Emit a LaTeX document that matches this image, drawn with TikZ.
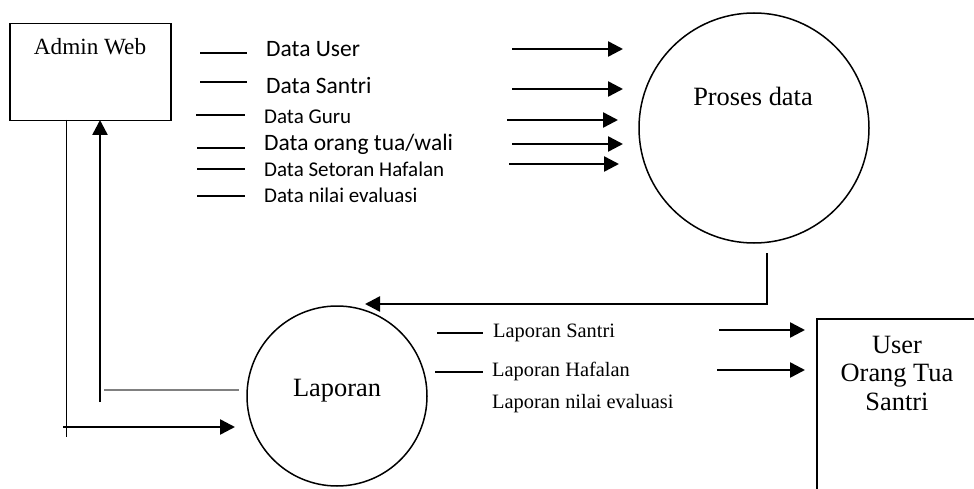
\documentclass[tikz,border=0pt]{standalone}
\usepackage{fontspec}
\setmainfont{Liberation Serif}
\newfontfamily\calfont{Carlito}
\usetikzlibrary{arrows.meta, calc}

\begin{document}
\begin{tikzpicture}[x=1pt, y=-1pt,
  box/.style={draw, line width=1.5pt, rectangle, anchor=north west, inner sep=0pt},
  proc/.style={draw, line width=1.5pt, circle, inner sep=0pt},
  flow/.style={line width=2.5pt, -{Triangle[length=15pt,width=15pt]}},
  dash line/.style={line width=1.5pt},
  datalbl/.style={anchor=base west, inner sep=0pt, font=\calfont\fontsize{23.5}{26}\selectfont},
  datasmall/.style={datalbl, font=\calfont\fontsize{21}{24}\selectfont},
  replbl/.style={anchor=base west, inner sep=0pt, font=\fontsize{20.4}{24}\selectfont},
  biglbl/.style={anchor=base, inner sep=0pt, font=\fontsize{26.4}{28.5}\selectfont}]

\useasboundingbox (0,0) rectangle (974,489);
\clip (0,0) rectangle (974,489);

% Entities and processes
\node[box, minimum width=161pt, minimum height=97pt] (admin) at (9,23) {};
\node[box, draw=none, minimum width=200pt, minimum height=200pt] (user) at (817,319) {};
\draw[line width=1.5pt] (user.south west) |- (user.north east);
\node[proc, minimum size=230pt] (proses) at (754,128) {};
\node[proc, minimum size=180pt] (laporan) at (337,396) {};

% Names
\node[biglbl, font=\fontsize{23.2}{26}\selectfont] (adminText) at (90,55) {Admin Web};
\node[biglbl] (prosesText) at (753,106) {Proses data};
\node[biglbl] (laporanText) at (337,396) {Laporan};
\node[biglbl, align=center] (userText) at (897,410) {User\\Orang Tua\\Santri};

% Points
\coordinate (A1) at (66,120);
\coordinate (A2) at (66,437);
\coordinate (A3) at (100,402);
\coordinate (A4) at (100,120);
\coordinate (A5) at (63,427);
\coordinate (A6) at (235,427);
\coordinate (G1) at (104,390);
\coordinate (G2) at (239,390);
\coordinate (P1) at (767,253);
\coordinate (P2) at (767,304);
\coordinate (P3) at (365,304);

% Data labels
\node[datalbl] (dUser) at (266,57) {Data User};
\node[datalbl] (dSantri) at (266,94) {Data Santri};
\node[datasmall] (dGuru) at (264,124) {Data Guru};
\node[datalbl] (dOrtu) at (264,151) {Data orang tua/wali};
\node[datasmall] (dSetor) at (264,177) {Data Setoran Hafalan};
\node[datasmall] (dNilai) at (264,203) {Data nilai evaluasi};

\draw[dash line] (200,53) -- (247,53);
\draw[dash line] (200,82) -- (247,82);
\draw[dash line] (196,115) -- (245,115);
\draw[dash line] (197,148) -- (245,148);
\draw[dash line] (197,169) -- (245,169);
\draw[dash line] (197,196) -- (245,196);

% Arrows into Proses data
\draw[flow] (512,49) -- (623,49);
\draw[flow] (512,89) -- (623,89);
\draw[flow] (507,120) -- (618,120);
\draw[flow] (512,144) -- (623,144);
\draw[flow] (509,164) -- (619,164);

% Proses data to Laporan
\draw[line width=1.3pt] (P1) -- (P2);
\draw[flow] ($(P2)+(0.5,0)$) -- (P3);

% Admin Web and Laporan
\draw[line width=1pt] (A1) -- (A2);
\draw[flow] (A3) -- (A4);
\draw[flow] (A5) -- (A6);
\draw[line width=1.3pt, gray] (G1) -- (G2);

% Report labels
\node[replbl] (lSantri) at (493,337) {Laporan Santri};
\node[replbl] (lHafalan) at (492,376) {Laporan Hafalan};
\node[replbl] (lNilai) at (492,408) {Laporan nilai evaluasi};

\draw[dash line] (437,333) -- (483,333);
\draw[dash line] (435,372) -- (483,372);

% Arrows to User
\draw[flow] (719,330) -- (805,330);
\draw[flow] (717,370) -- (805,370);

\end{tikzpicture}
\end{document}
